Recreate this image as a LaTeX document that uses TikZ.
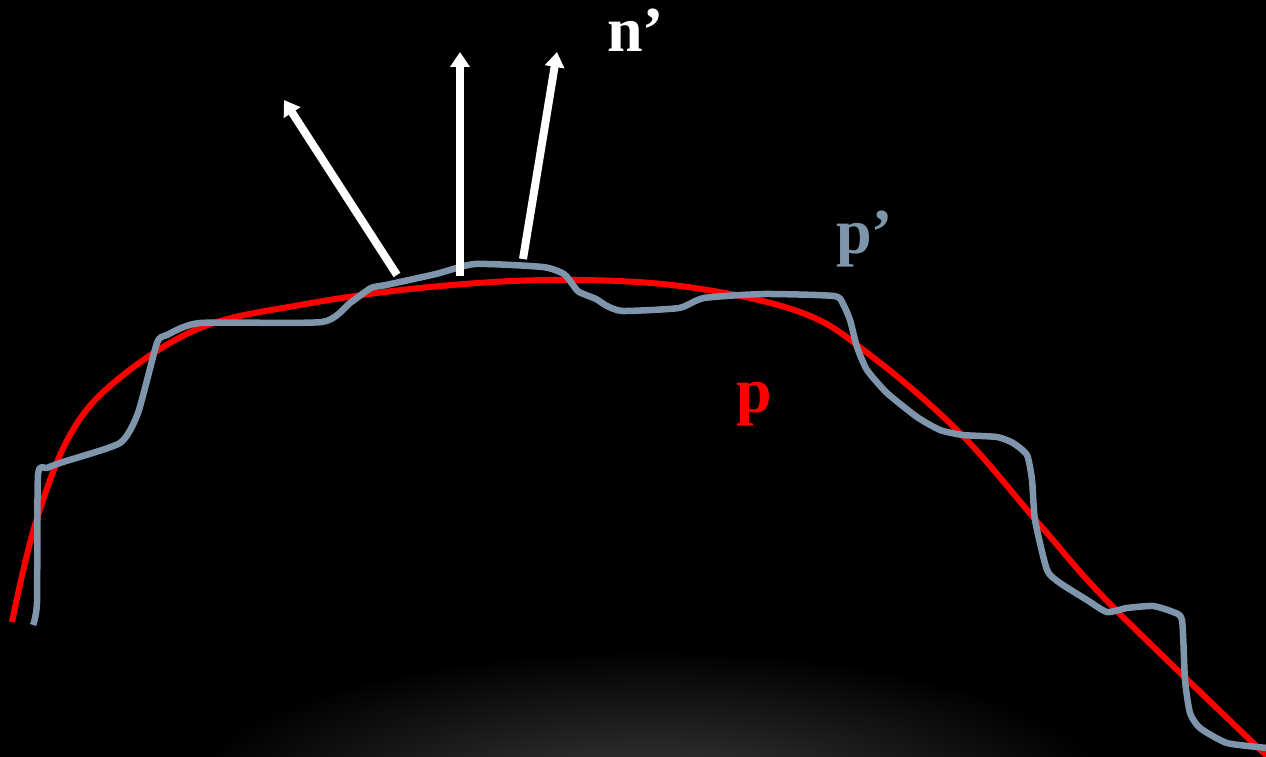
\documentclass[tikz,border=0pt]{standalone}
\usepackage{fontspec}
\setmainfont{Liberation Serif}
\usetikzlibrary{arrows.meta}
\definecolor{slate}{RGB}{127,149,171}

\begin{document}
\begin{tikzpicture}[x=1pt, y=-1pt, font=\fontsize{64}{66}\selectfont\bfseries,
  normal/.style={white, line width=8pt, -{Triangle[length=15pt, width=19pt]}},
  lbl/.style={anchor=base west, inner sep=0pt}]
\useasboundingbox (0,0) rectangle (1266,757);
\fill[black] (0,0) rectangle (1266,757);
% faint glow at the bottom
\begin{scope}
\clip (0,0) rectangle (1266,757);
\shade[inner color=black!76!white, outer color=black] (650,800) ellipse (470 and 150);
\end{scope}
% fitted surface p
\draw[red, line width=6pt] plot[smooth, tension=0.6] coordinates {
  (12,622) (35,525) (70,435) (117,380) (200,328) (300,305) (420,288) (550,280)
  (680,286) (800,312) (870,355) (960,433) (1040,525) (1113,607) (1268,757)};
% measured surface p'
\draw[slate, line width=6.5pt, line join=round] plot[smooth, tension=0.35] coordinates {
  (33,625) (37,602) (38,475) (47,468) (63,462) (120,443) (138,413) (157,343)
  (167,335) (200,323) (322,322) (350,303) (371,288) (386,285) (436,274) (475,264)
  (543,267) (564,274) (573,285) (579,292) (596,299) (607,306) (623,311) (679,308)
  (704,298) (764,294) (834,296) (843,304) (850,320) (857,347) (867,370) (887,393)
  (917,417) (940,430) (963,435) (997,437) (1013,443) (1027,455) (1032,480) (1035,520)
  (1047,570) (1060,583) (1087,600) (1107,612) (1127,608) (1153,606) (1173,612) (1182,620)
  (1185,680) (1190,713) (1200,728) (1227,743) (1268,748)};
% normals n'
\coordinate (b1) at (397,275); \coordinate (t1) at (284,100);
\coordinate (b2) at (460,276); \coordinate (t2) at (460,52);
\coordinate (b3) at (523,259); \coordinate (t3) at (557,52);
\foreach \i in {1,2,3}
  \draw[normal] (b\i) -- (t\i);
% labels
\node[lbl, white] (nlbl) at (607,52) {n’};
\node[lbl, slate] (pplbl) at (836,253) {p’};
\node[lbl, red] (plbl) at (736,412) {p};
\end{tikzpicture}
\end{document}
